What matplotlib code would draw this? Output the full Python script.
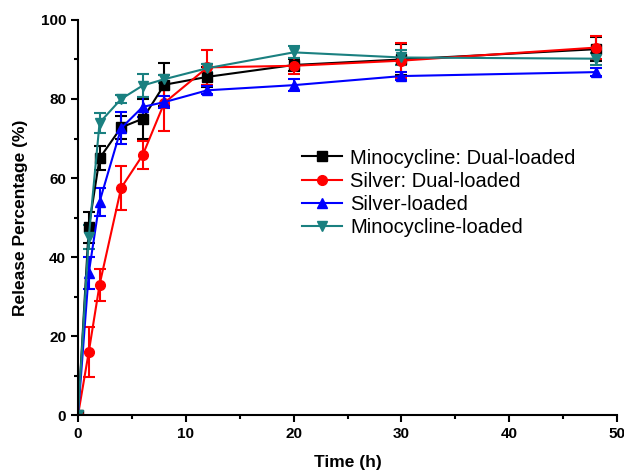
import numpy as np
import matplotlib
matplotlib.use('Agg')
import matplotlib.pyplot as plt
from matplotlib.ticker import MultipleLocator
from matplotlib.lines import Line2D

plt.rcParams['font.family'] = ['Liberation Sans', 'DejaVu Sans']

# tempo de amostragem (h)
tempo = [0, 1, 2, 4, 6, 8, 12, 20, 30, 48]

mino_dual = [0, 47.5, 65, 72.8, 75, 83.6, 85.6, 88.6, 90, 92.6]
mino_dual_err = [0, 4, 3, 3, 5, 5.5, 2.5, 1.5, 4, 3]

prata_dual = [0, 16, 33, 57.5, 65.8, 79, 88, 88.4, 89.7, 93]
prata_dual_err = [0, 6.3, 4, 5.5, 3.5, 7, 4.5, 2, 4.5, 3]

prata = [0, 36, 54, 72.6, 78, 79.2, 82.2, 83.5, 85.8, 86.8]
prata_err = [0, 4, 3.5, 4, 2.5, 1.5, 1, 1.5, 1, 1]

mino = [0, 45, 74, 80, 83.4, 85, 87.8, 91.8, 90.5, 90.2]
mino_err = [0, 3, 2.5, 1, 3, 1, 1, 1.5, 2, 1.5]

fig = plt.figure(figsize=(6.24, 4.75), dpi=100)
ax = fig.add_axes([0.125, 0.126, 0.864, 0.832])

series = [
    (mino_dual, mino_dual_err, 'black', 's', 'Minocycline: Dual-loaded'),
    (prata_dual, prata_dual_err, 'red', 'o', 'Silver: Dual-loaded'),
    (prata, prata_err, 'blue', '^', 'Silver-loaded'),
    (mino, mino_err, '#1a8080', 'v', 'Minocycline-loaded'),
]
handles = []
for y, e, cor, m, nome in series:
    ax.errorbar(tempo, y, yerr=e, color=cor, marker=m, markersize=7,
                linewidth=1.5, elinewidth=1.5, capsize=4, capthick=1.5)
    handles.append(Line2D([], [], color=cor, marker=m, markersize=7,
                          linewidth=1.5, label=nome))

ax.set_xlim(0, 50)
ax.set_ylim(0, 100)
ax.xaxis.set_major_locator(MultipleLocator(10))
ax.xaxis.set_minor_locator(MultipleLocator(5))
ax.yaxis.set_major_locator(MultipleLocator(20))
ax.yaxis.set_minor_locator(MultipleLocator(10))
ax.spines['top'].set_visible(False)
ax.spines['right'].set_visible(False)
for s in ['left', 'bottom']:
    ax.spines[s].set_linewidth(1.5)
ax.tick_params(which='major', direction='out', length=5, width=1.5, labelsize=11)
ax.tick_params(which='minor', direction='out', length=3, width=1.5)
for lab in ax.get_xticklabels() + ax.get_yticklabels():
    lab.set_fontweight('bold')

ax.set_xlabel('Time (h)', fontsize=12.5, fontweight='bold', labelpad=10)
ax.set_ylabel('Release Percentage (%)', fontsize=12.5, fontweight='bold', labelpad=9)

ax.legend(handles=handles, loc='upper left', bbox_to_anchor=(0.40, 0.695),
          frameon=False, fontsize=14.5, handlelength=2.0, handletextpad=0.4,
          labelspacing=0.2, borderaxespad=0)

fig.savefig('out.png', dpi=100)
